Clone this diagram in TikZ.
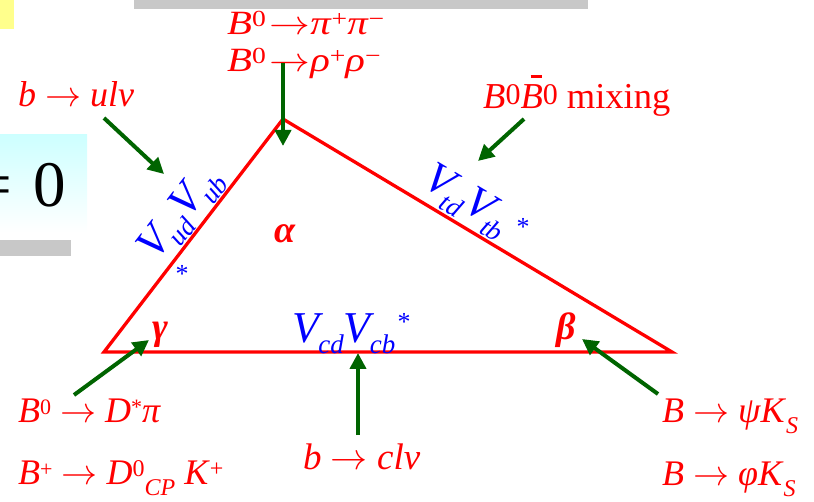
\RequirePackage{fix-cm}
\documentclass[tikz,border=0pt]{standalone}
\usepackage{graphicx}
\usepackage{fontspec}
\setmainfont{Liberation Serif}
\usetikzlibrary{arrows.meta}
\definecolor{agreen}{RGB}{0,100,0}
\definecolor{cyanbg}{RGB}{205,255,255}
\definecolor{graybar}{RGB}{200,200,200}
\definecolor{yelbg}{RGB}{255,255,140}
\newcommand{\supx}[3]{\raisebox{#1}{\fontsize{#2}{#2}\selectfont #3}}
\newcommand{\sps}[1]{\supx{8pt}{22}{#1}}
\newcommand{\sbs}[1]{\supx{-11pt}{24}{#1}}
\newcommand{\vsub}[1]{\kern-5pt\supx{-11pt}{27}{\textit{#1}}}
\newcommand{\arr}{$\rightarrow$}
\newcommand{\barB}{\rlap{\hspace{0.28em}\rule[0.86em]{0.3em}{0.08em}}\textit{B}}
\tikzset{
  lbl/.style={text=red, inner sep=0pt, anchor=base west, font=\fontsize{35}{40}\selectfont},
  ang/.style={text=red, inner sep=0pt, anchor=base west, font=\fontsize{38}{40}\selectfont\bfseries\itshape},
  vlab/.style={text=blue, inner sep=0pt, anchor=base west, font=\fontsize{44}{48}\selectfont},
  vstar/.style={text=blue, inner sep=0pt, anchor=base, font=\fontsize{26}{28}\selectfont},
  side/.style={draw=red, line width=3.3pt},
  garrow/.style={draw=agreen, line width=4pt, -{Triangle[length=16pt,width=16pt]}},
}
\begin{document}
\begin{tikzpicture}[x=1pt,y=-1pt]
\useasboundingbox (0,0) rectangle (814,502);
% background decorations
\fill[yelbg] (0,0) rectangle (14,29);
\fill[graybar] (134,0) rectangle (588,9);
\shade[top color=cyanbg, bottom color=white] (0,135) rectangle (87,232);
\fill[graybar] (0,240) rectangle (71,256);
\node[inner sep=0pt, anchor=base west, font=\fontsize{65}{70}\selectfont] (eq) at (-24.5,207) {=};
\node[inner sep=0pt, anchor=base west, font=\fontsize{65}{70}\selectfont] (zero) at (33.5,207) {0};
% triangle
\coordinate (L) at (104,352);
\coordinate (T) at (283,119);
\coordinate (R) at (672,352);
\draw[side] (L) -- (T) -- (R) -- cycle;
% side labels
\node[vlab] (vcb) at (292,343) {\textit{V}\vsub{cd}\textit{V}\vsub{cb}};
\node[vstar] (s1) at (404,331) {*};
\node[vlab, rotate=52.3] (vub) at (156,262) {\textit{V}\vsub{ud}\textit{V}\vsub{ub}};
\node[vstar] (s2) at (182,283) {*};
\node[vlab, rotate=-30.8] (vtb) at (421,185) {\textit{V}\vsub{td}\textit{V}\vsub{tb}};
\node[vstar] (s3) at (523,236) {*};
% angles
\node[ang] (alpha) at (274,243) {α};
\node[ang] (gamma) at (152,340) {γ};
\node[ang] (beta) at (556,340) {β};
% process labels
\node[lbl, font=\fontsize{34}{40}\selectfont] (pipi) at (227,35) {\scalebox{1.2}[1]{\textit{B}\supx{8pt}{23}{0}\kern3pt\arr\textit{π}\supx{8pt}{23}{+}\textit{π}\supx{8pt}{23}{−}}};
\node[lbl, font=\fontsize{34}{40}\selectfont] (rhorho) at (227,72) {\scalebox{1.2}[1]{\textit{B}\supx{8pt}{23}{0}\kern3pt\arr\textit{ρ}\supx{8pt}{23}{+}\textit{ρ}\supx{8pt}{23}{−}}};
\node[lbl, font=\fontsize{36}{40}\selectfont] (ulv) at (18,107) {\textit{b} \arr{} \textit{ulv}};
\node[lbl, font=\fontsize{36.5}{40}\selectfont] (mix) at (483,109) {\textit{B}\supx{4pt}{30}{0}\barB\supx{4pt}{30}{0} mixing};
\node[lbl, font=\fontsize{36}{40}\selectfont] (dpi) at (18,423) {\textit{B}\sps{0} \arr{} \textit{D}\sps{*}\textit{π}};
\node[lbl, font=\fontsize{36}{40}\selectfont] (dk) at (18,484) {\textit{B}\sps{+} \arr{} \textit{D}\supx{8pt}{24}{0}\sbs{\textit{CP}} \textit{K}\supx{8pt}{24}{+}};
\node[lbl, font=\fontsize{37}{40}\selectfont] (clv) at (303,469) {\textit{b} \arr{} \textit{clv}};
\node[lbl, font=\fontsize{36}{40}\selectfont] (psik) at (662,423) {\textit{B} \arr{} \textit{ψK}\sbs{\textit{S}}};
\node[lbl, font=\fontsize{36}{40}\selectfont] (phik) at (662,485) {\textit{B} \arr{} \textit{φK}\sbs{\textit{S}}};
% arrows
\coordinate (a1s) at (283,63);   \coordinate (a1e) at (283,146);
\coordinate (a2s) at (104,118);  \coordinate (a2e) at (164,174);
\coordinate (a3s) at (524,119);  \coordinate (a3e) at (478,161);
\coordinate (a4s) at (74,395);   \coordinate (a4e) at (149,340);
\coordinate (a5s) at (358,435);  \coordinate (a5e) at (358,353);
\coordinate (a6s) at (658,394);  \coordinate (a6e) at (582,339);
\draw[garrow] (a1s) -- (a1e);
\draw[garrow] (a2s) -- (a2e);
\draw[garrow] (a3s) -- (a3e);
\draw[garrow] (a4s) -- (a4e);
\draw[garrow] (a5s) -- (a5e);
\draw[garrow] (a6s) -- (a6e);
\end{tikzpicture}
\end{document}
